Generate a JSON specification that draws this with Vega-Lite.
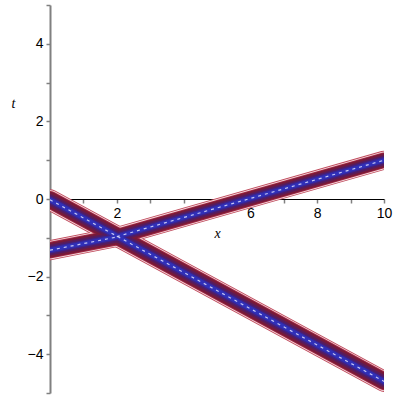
{
  "$schema": "https://vega.github.io/schema/vega-lite/v6.json",
  "width": 334,
  "height": 388,
  "autosize": "none",
  "padding": {"left": 50, "top": 5, "right": 16, "bottom": 7},
  "background": "white",
  "config": {
    "view": {"stroke": null},
    "axis": {
      "grid": false,
      "labelFont": "Liberation Sans",
      "labelFontSize": 14,
      "labelColor": "black",
      "titleFont": "Liberation Serif",
      "titleFontStyle": "italic",
      "titleFontWeight": "normal",
      "titleFontSize": 14,
      "titleColor": "black"
    }
  },
  "data": {
    "values": [
      {"seg": "A", "x": 0, "t": -0.02},
      {"seg": "A", "x": 10, "t": -4.7},
      {"seg": "B1", "x": 0, "t": -1.32},
      {"seg": "B1", "x": 2.0, "t": -0.98},
      {"seg": "B2", "x": 2.0, "t": -0.97},
      {"seg": "B2", "x": 10, "t": 1.0}
    ]
  },
  "encoding": {
    "x": {
      "field": "x", "type": "quantitative",
      "scale": {"domain": [0, 10], "nice": false, "zero": false},
      "axis": {
        "values": [1, 2, 3, 4, 5, 6, 7, 8, 9, 10],
        "labelExpr": "datum.value % 2 == 0 ? datum.label : ''",
        "offset": -194,
        "domainColor": "black",
        "domainWidth": 1,
        "tickColor": "#808080",
        "tickWidth": 1.5,
        "tickSize": 4,
        "labelPadding": 3,
        "labelFlush": false,
        "title": "x",
        "titleX": 167,
        "titleY": 34,
        "titleBaseline": "middle"
      }
    },
    "y": {
      "field": "t", "type": "quantitative",
      "scale": {"domain": [-5, 5], "nice": false, "zero": false},
      "axis": {
        "values": [-5, -4, -3, -2, -1, 0, 1, 2, 3, 4, 5],
        "labelExpr": "datum.value % 2 == 0 ? datum.label : ''",
        "domainColor": "#808080",
        "domainWidth": 2,
        "tickColor": "#808080",
        "tickWidth": 1.5,
        "tickSize": 4,
        "labelPadding": 3,
        "labelFlush": false,
        "title": "t",
        "titleAngle": 0,
        "titleX": -37,
        "titleY": 98,
        "titleBaseline": "middle",
        "titleAlign": "center"
      }
    },
    "detail": {"field": "seg", "type": "nominal"}
  },
  "layer": [
    {
      "mark": {"type": "line", "clip": true, "color": "#c04a5c", "strokeCap": "round"},
      "encoding": {"strokeWidth": {"field": "seg", "type": "ordinal", "scale": {"domain": ["A", "B1", "B2"], "range": [21, 19, 15]}, "legend": null}}
    },
    {
      "mark": {"type": "line", "clip": true, "color": "#f4dde0", "strokeCap": "round"},
      "encoding": {"strokeWidth": {"field": "seg", "type": "ordinal", "scale": {"domain": ["A", "B1", "B2"], "range": [19.2, 17.2, 13.2]}, "legend": null}}
    },
    {
      "mark": {"type": "line", "clip": true, "color": "#a82a44", "strokeCap": "round"},
      "encoding": {"strokeWidth": {"field": "seg", "type": "ordinal", "scale": {"domain": ["A", "B1", "B2"], "range": [17.6, 15.6, 11.8]}, "legend": null}}
    },
    {
      "mark": {"type": "line", "clip": true, "color": "#761a3a", "strokeCap": "round"},
      "encoding": {"strokeWidth": {"field": "seg", "type": "ordinal", "scale": {"domain": ["A", "B1", "B2"], "range": [15.8, 13.8, 10.4]}, "legend": null}}
    },
    {
      "mark": {"type": "line", "clip": true, "color": "#561c5e", "strokeCap": "round"},
      "encoding": {"strokeWidth": {"field": "seg", "type": "ordinal", "scale": {"domain": ["A", "B1", "B2"], "range": [11, 10, 7.8]}, "legend": null}}
    },
    {
      "mark": {"type": "line", "clip": true, "color": "#3a2490", "strokeCap": "round"},
      "encoding": {"strokeWidth": {"field": "seg", "type": "ordinal", "scale": {"domain": ["A", "B1", "B2"], "range": [7, 6.4, 5]}, "legend": null}}
    },
    {
      "mark": {"type": "line", "clip": true, "color": "#3030b8", "strokeCap": "round"},
      "encoding": {"strokeWidth": {"field": "seg", "type": "ordinal", "scale": {"domain": ["A", "B1", "B2"], "range": [4.4, 4, 3.2]}, "legend": null}}
    },
    {
      "mark": {"type": "line", "clip": true, "color": "#e0e0ff", "strokeWidth": 1.2, "strokeDash": [3, 4], "opacity": 0.85},
      "encoding": {}
    }
  ],
  "resolve": {"scale": {"strokeWidth": "independent"}}
}
